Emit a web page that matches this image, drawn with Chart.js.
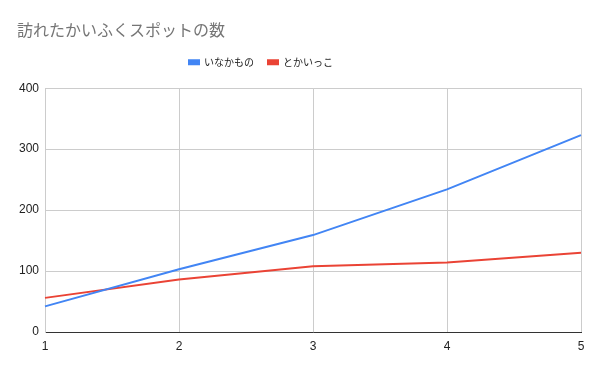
<!DOCTYPE html>
<html>
<head>
<meta charset="utf-8">
<script src="https://cdn.jsdelivr.net/npm/chart.js@4"></script>
<style>
  html, body { margin: 0; padding: 0; background: #fff; }
  #wrap { width: 600px; height: 371px; }
</style>
</head>
<body>
<div id="wrap"><canvas id="visitChart" width="600" height="371"></canvas></div>
<script>
const titleText = '訪れたかいふくスポットの数';
const categories = ['1', '2', '3', '4', '5'];
const inakamono = [42, 103, 159, 234, 323];
const tokaikko = [56, 86, 108, 114, 130];
const yTicks = [0, 100, 200, 300, 400];

// nudge the legend so it sits where the original one does
const legendNudge = {
    id: 'legendNudge',
    afterLayout(chart) {
        const lg = chart.legend;
        if (!lg) return;
        lg.left -= 38; lg.right -= 38;
        lg.top -= 11; lg.bottom -= 11;
    }
};

const ctx = document.getElementById('visitChart').getContext('2d');

new Chart(ctx, {
    type: 'line',
    data: {
        labels: categories,
        datasets: [{
            label: 'いなかもの',
            data: inakamono,
            borderColor: '#4285f4',
            backgroundColor: '#4285f4',
            borderWidth: 2,
            pointRadius: 0,
            tension: 0,
            fill: false
        }, {
            label: 'とかいっこ',
            data: tokaikko,
            borderColor: '#ea4335',
            backgroundColor: '#ea4335',
            borderWidth: 2,
            pointRadius: 0,
            tension: 0,
            fill: false
        }]
    },
    plugins: [legendNudge],
    options: {
        responsive: false,
        animation: false,
        layout: { padding: { left: 17, right: 19, top: 0, bottom: 0 } },
        plugins: {
            title: {
                display: true,
                text: titleText,
                align: 'start',
                color: '#757575',
                font: { family: '"Noto Sans CJK JP", sans-serif', size: 16, weight: 'normal' },
                padding: { top: 20, bottom: 15 }
            },
            legend: {
                display: true,
                position: 'top',
                labels: {
                    boxWidth: 10,
                    boxHeight: 4,
                    color: '#222',
                    font: { family: '"Noto Sans CJK JP", sans-serif', size: 10 },
                    padding: 14
                }
            },
            tooltip: { enabled: false }
        },
        scales: {
            x: {
                offset: false,
                grid: { color: '#cccccc', drawTicks: false },
                border: { color: '#333333', width: 1 },
                ticks: {
                    color: '#222',
                    font: { family: 'Arial, "Liberation Sans", sans-serif', size: 12 },
                    padding: 7,
                    maxRotation: 0
                },
                afterFit: (scale) => { scale.height = 39; }
            },
            y: {
                min: 0,
                max: 400,
                grid: { color: '#cccccc', drawTicks: false },
                border: { color: '#cccccc' },
                afterBuildTicks: (scale) => { scale.ticks = yTicks.map(v => ({ value: v })); },
                ticks: {
                    color: '#222',
                    font: { family: 'Arial, "Liberation Sans", sans-serif', size: 12 },
                    padding: 6
                },
                afterFit: (scale) => { scale.width = 28; }
            }
        }
    }
});
</script>
</body>
</html>
